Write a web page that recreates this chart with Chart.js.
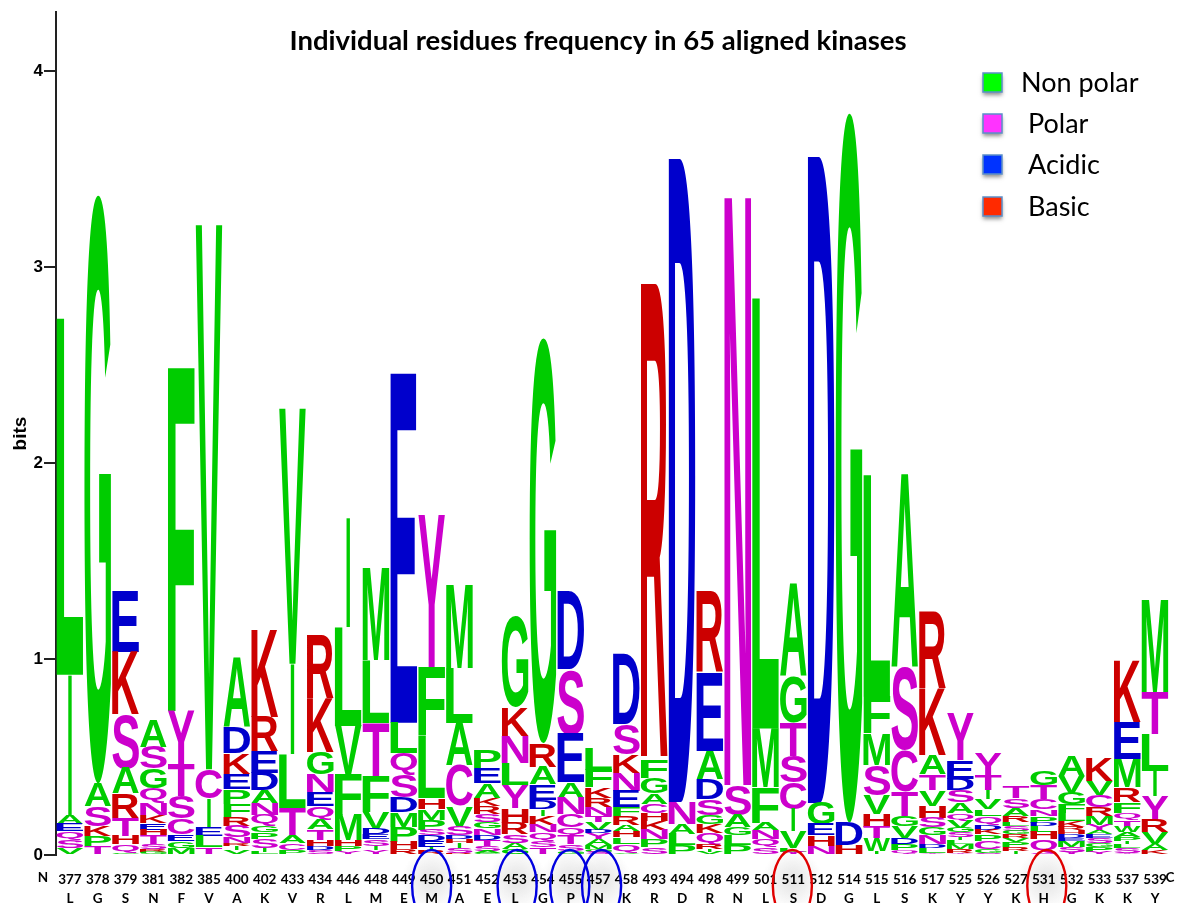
<!DOCTYPE html>
<html>
<head>
<meta charset="utf-8">
<title>Individual residues frequency in 65 aligned kinases</title>
<script src="https://cdn.jsdelivr.net/npm/chart.js@4/dist/chart.umd.js"></script>
<style>
  body { margin: 0; background: #fff; }
</style>
</head>
<body>
<canvas id="logoChart" width="1178" height="903"></canvas>
<script>
const chartTitle = "Individual residues frequency in 65 aligned kinases"
const positions = ["377","378","379","381","382","385","400","402","433","434","446","448","449","450","451","452","453","454","455","457","458","493","494","498","499","501","511","512","514","515","516","517","525","526","527","531","532","533","537","539"]
const residues = ["L","G","S","N","F","V","A","K","V","R","L","M","E","M","A","E","L","G","P","N","K","R","D","R","N","L","S","D","G","L","S","K","Y","Y","K","H","G","K","K","Y"]
const yTicks = [0, 1, 2, 3, 4]

// letters of each column, bottom to top
const stackLetters = ["VSQEAIL","TPKSAG","GQHTRASKE","GRSTHEKNQGSA","MGECSTYF","TLEICV","VIRNSRFPEKDA","LISPGQNADERK","PCATLIV","SDHTAQENGKR","YPHMFVLI","YISEDVFTLM","RHPMDSQLE","RIEDSPMHLFY","RSIHDSVCALM","GASTDNGSRKAEP","GASRHYLNKG","TSQNKIDEARG","GSTQCNAESD","SGMAYDVTNRKFL","VQLHARFENKSD","SPNKHCAGFR","PLAND","VIRQKGSDAER","PLGASN","SQNAFML","YLVICSTGA","NHEGD","HDG","IWTHVSMFL","QPDVGTCSA","YLDNGSHVTAKR","YRMLISGVQASDEY","SGCPKDQLVITY","IRPVRGSLRAST","SQHLDPNCTG","YSMEDHRKLFGVA","YPGSEAYMRCVK","YSLIPAWTQFRMEK","KAVRYILTM"]
// top of each letter in bits
const stackTops = [
  [.035,.075,.12,.16,.205,.92,2.74],
  [.045,.097,.148,.25,.365,3.37],
  [.012,.054,.097,.187,.313,.442,.718,1.037,1.35],
  [.015,.03,.055,.1,.13,.165,.205,.265,.34,.44,.55,.69],
  [.037,.071,.105,.187,.3,.463,.735,2.5],
  [.04,.097,.143,.289,.437,3.22],
  [.025,.045,.06,.09,.15,.195,.26,.335,.415,.52,.65,1.007],
  [.015,.035,.08,.115,.15,.205,.265,.33,.42,.527,.705,1.155],
  [.025,.06,.097,.24,.517,.975,2.28],
  [.025,.045,.075,.13,.18,.25,.32,.41,.525,.8,1.125],
  [.02,.045,.075,.205,.415,.66,1.165,1.725],
  [.025,.045,.08,.105,.135,.22,.405,.675,.995,1.47],
  [.03,.068,.145,.22,.295,.41,.52,.675,2.46],
  [.025,.04,.07,.1,.13,.18,.235,.29,.61,.96,1.74],
  [.012,.037,.06,.08,.1,.145,.25,.46,.675,.955,1.38],
  [.01,.02,.045,.075,.1,.135,.17,.21,.25,.29,.365,.445,.535],
  [.03,.063,.105,.165,.24,.357,.47,.607,.752,1.215],
  [.04,.072,.115,.155,.2,.235,.28,.36,.45,.57,2.64],
  [.02,.055,.1,.14,.208,.29,.37,.615,.947,1.345],
  [.015,.03,.05,.08,.11,.13,.17,.2,.245,.29,.345,.435,.548],
  [.012,.055,.09,.12,.153,.2,.245,.327,.42,.514,.667,1.024],
  [.04,.08,.13,.175,.215,.26,.315,.395,.488,2.92],
  [.05,.105,.16,.27,3.56],
  [.015,.03,.055,.114,.156,.204,.284,.386,.53,.93,1.345],
  [.05,.1,.14,.204,.357,3.38],
  [.04,.08,.125,.165,.345,.645,2.845],
  [.015,.035,.12,.235,.37,.505,.675,.91,1.385],
  [.045,.1,.155,.265,3.57],
  [.05,.165,3.79],
  [.02,.085,.145,.21,.305,.46,.62,.81,1.94],
  [.025,.055,.085,.145,.2,.325,.535,.955,1.945],
  [.012,.035,.055,.1,.14,.19,.25,.33,.41,.51,.85,1.245],
  [.012,.03,.055,.075,.09,.115,.14,.178,.215,.267,.33,.39,.483,.726],
  [.012,.03,.07,.105,.13,.155,.2,.235,.285,.33,.41,.517],
  [.02,.04,.065,.085,.105,.122,.15,.17,.2,.241,.29,.347],
  [.012,.08,.118,.148,.165,.2,.233,.284,.357,.43],
  [.015,.04,.07,.085,.105,.125,.143,.175,.212,.26,.318,.403,.51],
  [.015,.04,.06,.085,.105,.125,.155,.2,.245,.305,.375,.493],
  [.012,.035,.055,.07,.09,.115,.145,.18,.215,.27,.345,.49,.68,.998],
  [.025,.055,.115,.18,.3,.428,.615,.833,1.305],
]

const legendLabels = ["Non polar", "Polar", "Acidic", "Basic"]
const blueCircled = ["450", "453", "455", "457"]
const redCircled = ["511", "531"]

const groupColor = {}
"GAVLIMFPW".split("").forEach((l) => (groupColor[l] = "#00cc00"))
"STYCNQ".split("").forEach((l) => (groupColor[l] = "#cc00cc"))
"DE".split("").forEach((l) => (groupColor[l] = "#0000cc"))
"KRH".split("").forEach((l) => (groupColor[l] = "#cc0000"))

// one dataset per layer of the stacks
const layerCount = Math.max(...stackLetters.map((s) => s.length))
const datasets = []
for (let k = 0; k < layerCount; k++) {
  datasets.push({
    label: "layer " + k,
    data: stackTops.map((tops) => (k < tops.length ? tops[k] - (k ? tops[k - 1] : 0) : null)),
    backgroundColor: stackLetters.map((s) => groupColor[s[k]] || "transparent"),
    letters: stackLetters.map((s) => s[k] || ""),
    barPercentage: 1,
    categoryPercentage: 1,
  })
}

// stretch each letter into its bar
const drawGlyph = (ctx, letter, color, bar) => {
  const height = Math.abs(bar.base - bar.y)
  let width = bar.width - 1.2
  if (letter === "I") width = 3.5
  ctx.save()
  ctx.font = "bold 200px 'Liberation Sans'"
  ctx.textBaseline = "alphabetic"
  ctx.textAlign = "left"
  ctx.fillStyle = color
  const m = ctx.measureText(letter)
  const glyphW = m.actualBoundingBoxRight + m.actualBoundingBoxLeft
  const glyphH = m.actualBoundingBoxAscent + m.actualBoundingBoxDescent
  ctx.translate(bar.x - width / 2, bar.base)
  ctx.scale(width / glyphW, height / glyphH)
  ctx.fillText(letter, m.actualBoundingBoxLeft, -m.actualBoundingBoxDescent)
  ctx.restore()
}

const logoLetters = {
  id: "logoLetters",
  beforeDatasetDraw(chart, args) {
    const ds = chart.data.datasets[args.index]
    args.meta.data.forEach((bar, j) => {
      if (ds.letters[j]) drawGlyph(chart.ctx, ds.letters[j], ds.backgroundColor[j], bar)
    })
    return false
  },
}

const legendColors = ["#00ff00", "#ff33ff", "#0033ff", "#ff2a00"]
const legendX = [1021, 1028, 1028, 1028]
const legendY = [83, 124, 165, 207]

// hand drawn rings in the original do not sit exactly on the columns
const ringNudge = { 450: 0, 453: 2, 455: -1, 457: 3, 511: -1, 531: 3 }
const ringX = (chart, p) => chart.scales.x.getPixelForValue(positions.indexOf(p)) + ringNudge[p]

const drawGlow = (ctx, x) => {
  const glow = ctx.createRadialGradient(x, 880, 6, x, 880, 30)
  glow.addColorStop(0, "rgba(205,205,205,0.45)")
  glow.addColorStop(1, "rgba(205,205,205,0)")
  ctx.fillStyle = glow
  ctx.fillRect(x - 30, 850, 60, 53)
}

const drawRing = (ctx, x, color) => {
  ctx.beginPath()
  ctx.ellipse(x, 886, 19.5, 36, 0, 0, Math.PI * 2)
  ctx.strokeStyle = color
  ctx.lineWidth = 2.4
  ctx.stroke()
}

const decorations = {
  id: "decorations",
  beforeDraw(chart) {
    blueCircled.concat(redCircled).forEach((p) => drawGlow(chart.ctx, ringX(chart, p)))
  },
  afterDraw(chart) {
    const ctx = chart.ctx
    ctx.save()
    ctx.fillStyle = "#000"
    ctx.textBaseline = "middle"
    ctx.textAlign = "center"
    ctx.font = "bold 27.5px Lato"
    ctx.fillText(chartTitle, 598, 41)
    ctx.font = "bold 13.5px Lato"
    ctx.fillText("N", 43, 878)
    ctx.fillText("C", 1170, 878)

    ctx.textAlign = "left"
    ctx.font = "27px Lato"
    legendLabels.forEach((label, i) => {
      ctx.save()
      ctx.shadowColor = "rgba(0,0,0,0.45)"
      ctx.shadowBlur = 4
      ctx.shadowOffsetY = 3
      ctx.fillStyle = legendColors[i]
      ctx.fillRect(983, legendY[i] - 10, 19, 19)
      ctx.restore()
      ctx.strokeStyle = "#5b8fc9"
      ctx.lineWidth = 1.5
      ctx.strokeRect(983, legendY[i] - 10, 19, 19)
      ctx.fillText(label, legendX[i], legendY[i])
    })

    blueCircled.forEach((p) => drawRing(ctx, ringX(chart, p), "#0000e0"))
    redCircled.forEach((p) => drawRing(ctx, ringX(chart, p), "#e00000"))
    ctx.restore()
  },
}

new Chart(document.querySelector("#logoChart"), {
  type: "bar",
  data: {
    labels: positions.map((p, i) => [p, residues[i]]),
    datasets: datasets,
  },
  plugins: [logoLetters, decorations],
  options: {
    responsive: false,
    animation: false,
    layout: { padding: { top: 12, right: 9, left: 0, bottom: 0 } },
    plugins: { legend: { display: false }, tooltip: { enabled: false } },
    scales: {
      x: {
        stacked: true,
        afterFit: (scale) => { scale.height = 48 },
        grid: { display: false },
        border: { display: false },
        ticks: {
          autoSkip: false,
          maxRotation: 0,
          minRotation: 0,
          padding: 7,
          color: "#000",
          font: { family: "Lato", weight: "bold", size: 13.5, lineHeight: 1.42 },
        },
      },
      y: {
        stacked: true,
        min: 0,
        max: 4.3,
        afterFit: (scale) => { scale.width = 56 },
        afterBuildTicks: (scale) => { scale.ticks = yTicks.map((v) => ({ value: v })) },
        border: { display: true, color: "#222", width: 2 },
        grid: { drawOnChartArea: false, color: "#222", lineWidth: 2, tickLength: 12 },
        title: {
          display: true,
          text: "bits",
          color: "#000",
          font: { family: "Liberation Sans", weight: "bold", size: 19 },
          padding: { top: 9, bottom: 0 },
        },
        ticks: {
          color: "#000",
          padding: 1,
          font: { family: "Liberation Sans", weight: "bold", size: 17 },
        },
      },
    },
  },
})
</script>
</body>
</html>
